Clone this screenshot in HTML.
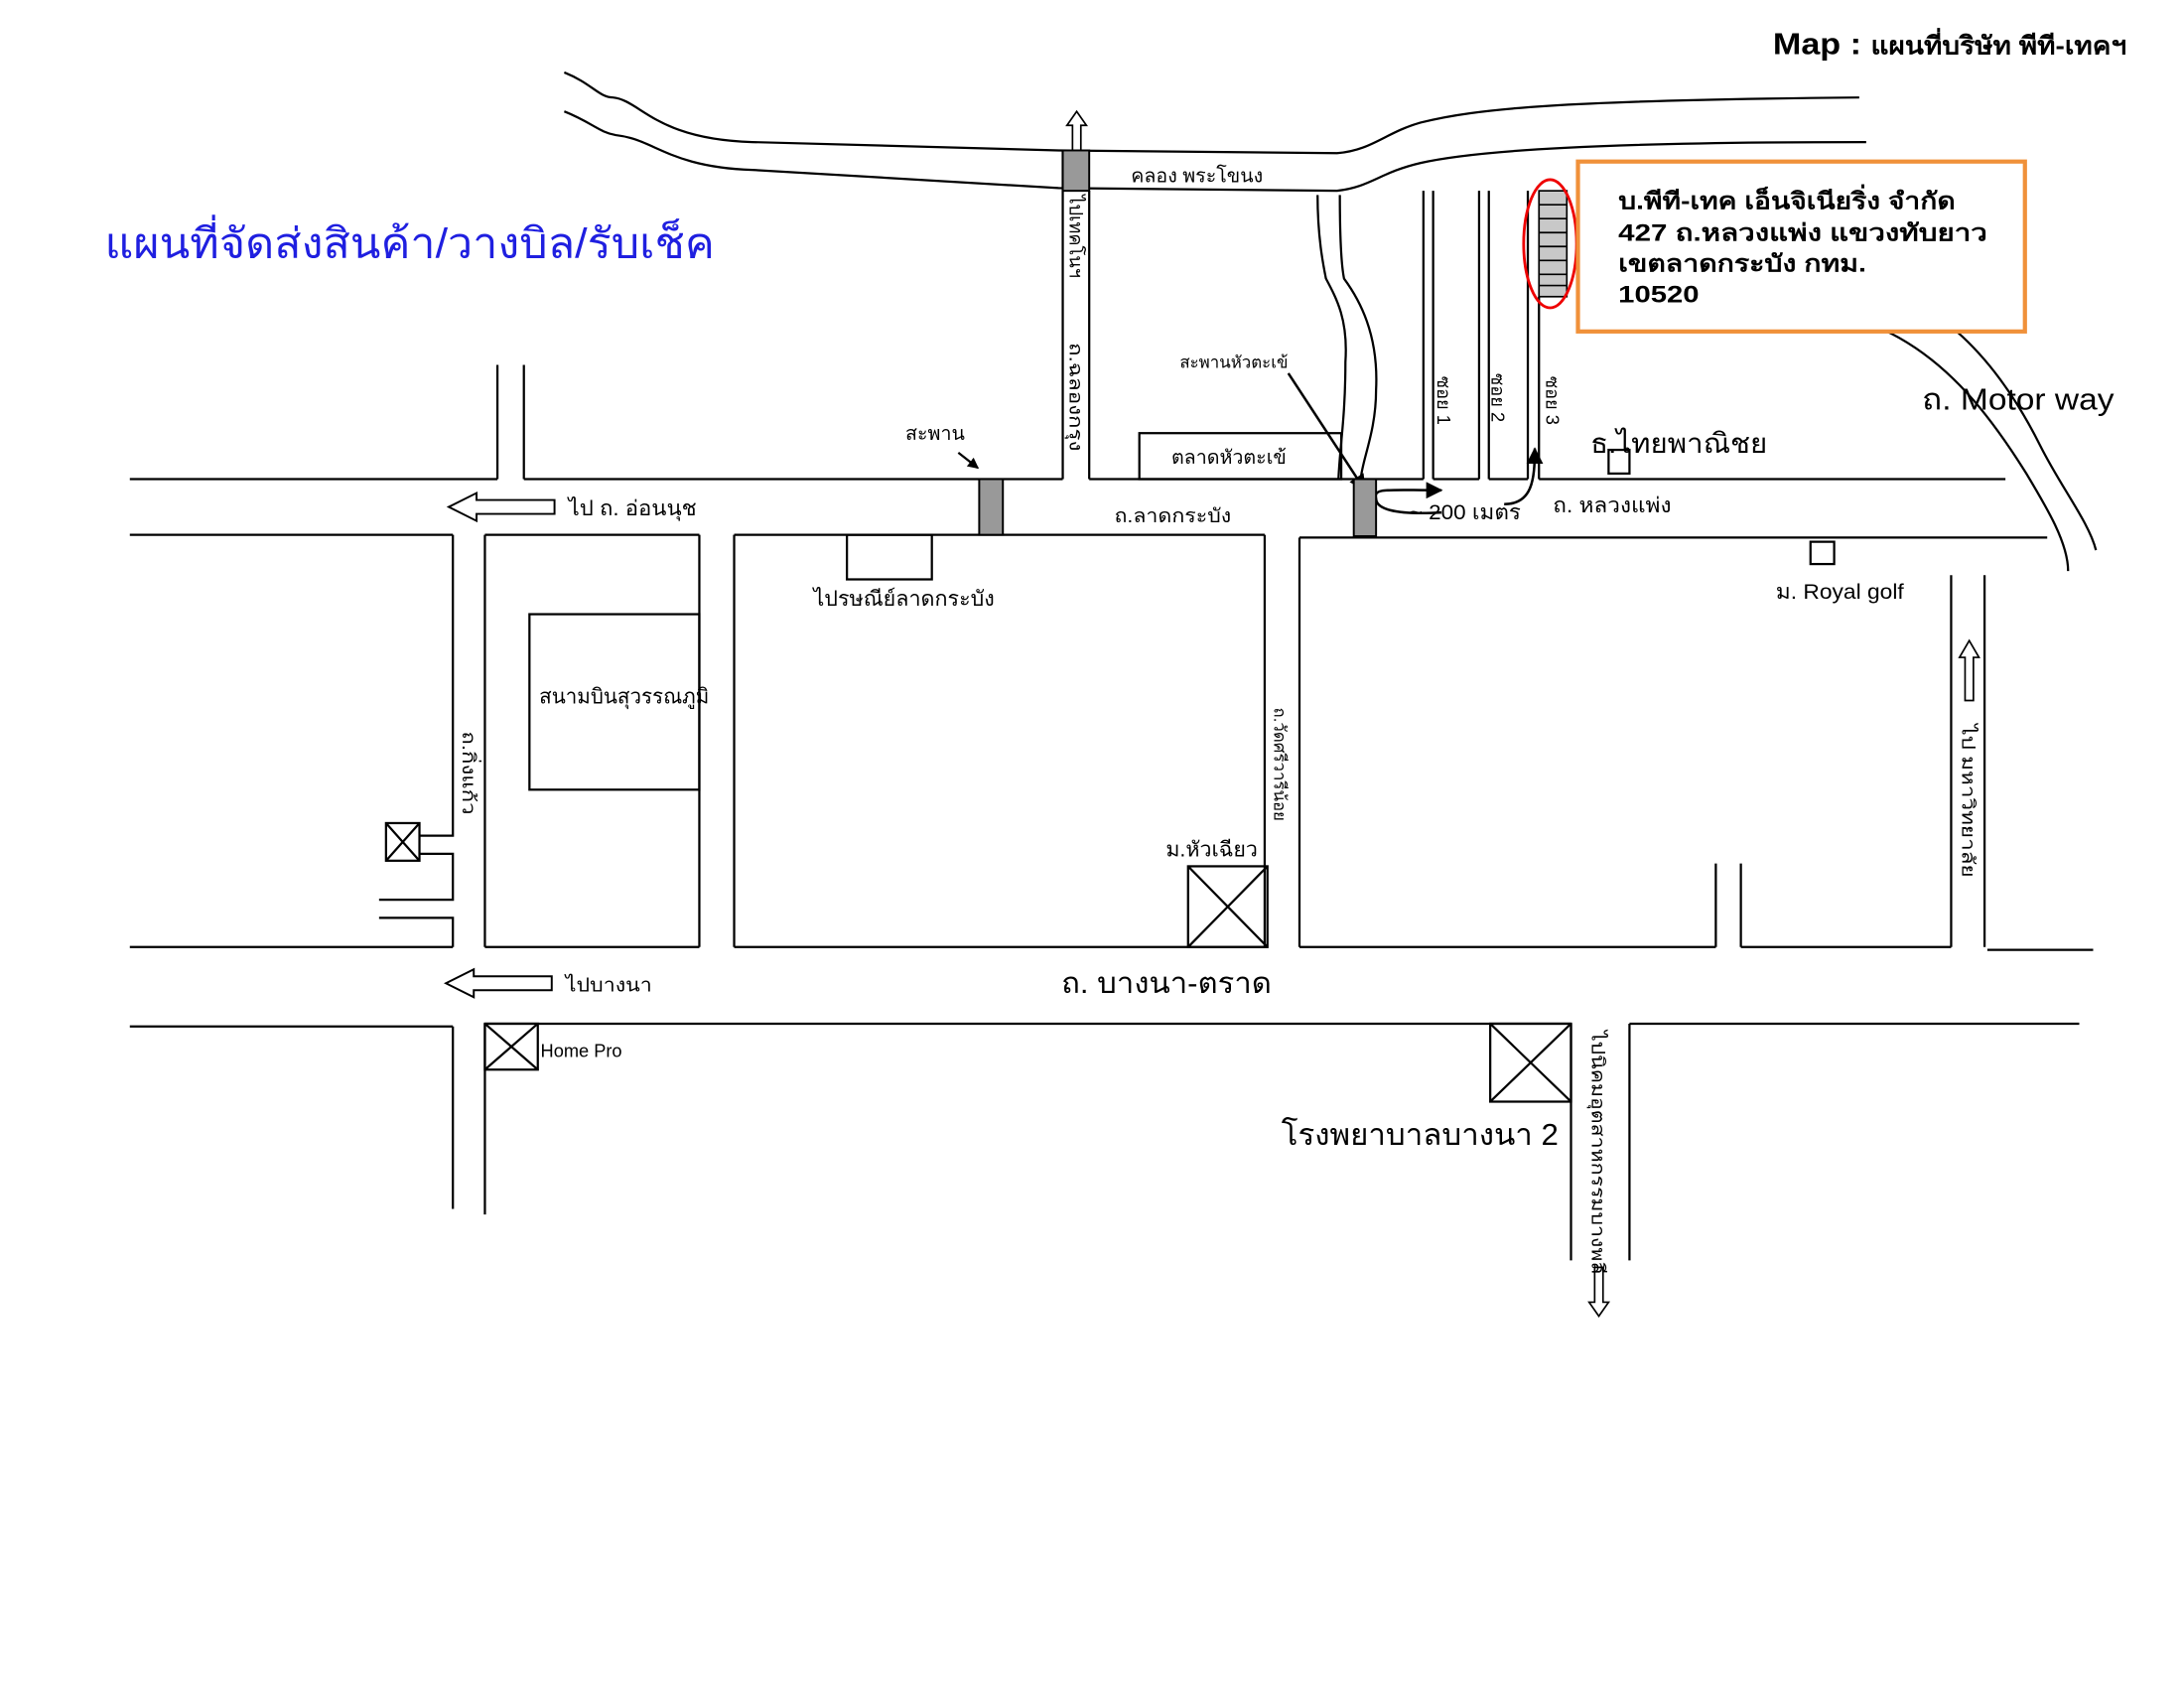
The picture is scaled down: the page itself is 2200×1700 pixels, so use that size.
<!DOCTYPE html>
<html><head><meta charset="utf-8"><style>
html,body{margin:0;padding:0;background:#fff;}
svg{display:block;}
text{font-family:"Liberation Sans","Noto Sans CJK SC",sans-serif;fill:#000;}
</style></head><body>
<svg width="2200" height="1700" viewBox="0 0 1568 1212" xmlns="http://www.w3.org/2000/svg">
<defs><marker id="ah" markerWidth="8" markerHeight="8" refX="7" refY="4" orient="auto" markerUnits="userSpaceOnUse"><path d="M0,0 L8,4 L0,8 z" fill="#000"/></marker>
<marker id="ah2" markerWidth="12" markerHeight="12" refX="11" refY="6" orient="auto" markerUnits="userSpaceOnUse"><path d="M0,0 L12,6 L0,12 z" fill="#000"/></marker></defs>
<g fill="none" stroke="#000" stroke-width="1.6">
<path d="M405,52 C425,60 430,70 440,70 C460,72 470,100 540,102 L760,108 L960,110 C985,108 995,95 1020,88 C1060,78 1120,72 1335,70"/>
<path d="M405,80 C425,88 430,95 442,97 C470,100 480,120 540,122 L760,135 L960,137 C985,134 990,124 1020,117 C1060,108 1150,102 1340,102"/>
<path d="M357,262 V344 M376,262 V344"/>
<path d="M763,108 V344 M782,137 V344"/>
<path d="M946,140 C946,170 950,190 952,200 C960,215 968,230 966,260 C966,300 962,320 961,344"/>
<path d="M962,140 C962,170 963,190 965,200 C976,215 990,240 988,280 C988,310 978,330 977,344"/>
<path d="M1022,137 V344 M1029,137 V344 M1062,137 V344 M1069,137 V344 M1097,137 V344 M1105,213 V344"/>
<path d="M93,344 H357 M376,344 H763 M782,344 H1022 M1029,344 H1062 M1069,344 H1097 M1105,344 H1440"/>
<path d="M93,384 H325 M348,384 H502 M527,384 H908 M933,386 H1470"/>
<path d="M1355,238 C1400,260 1430,300 1455,340 C1470,365 1485,390 1485,410"/>
<path d="M1405,238 C1430,260 1450,290 1465,320 C1480,350 1500,375 1505,395"/>
<path d="M325,384 V600 H301 M301,613 H325 V646 H272 M272,659 H325 V680"/>
<path d="M348,384 V680 M502,384 V680 M527,384 V680 M908,384 V680 M933,386 V680"/>
<path d="M1232,620 V680 M1250,620 V680 M1401,413 V680 M1425,413 V680"/>
<path d="M93,680 H325 M348,680 H502 M527,680 H908 M933,680 H1232 M1250,680 H1401 M1427,682 H1503"/>
<path d="M93,737 H325 M348,735 H1128 M1170,735 H1493"/>
<path d="M325,737 V868 M348,735 V872 M1128,735 V905 M1170,735 V905"/>
<path d="M398,359 H342 V354 L322,364 L342,374 V369 H398 Z" stroke-width="1.4"/>
<path d="M396,701 H340 V696 L320,706 L340,716 V711 H396 Z" stroke-width="1.4"/>
<path d="M770,120 V90 H766 L773,80 L780,90 H776 V120 Z" stroke-width="1.2"/>
<path d="M1411,503 V472 H1407 L1414,460 L1421,472 H1417 V503 Z" stroke-width="1.2"/>
<path d="M1145,910 V935 H1141 L1148,945 L1155,935 H1151 V910 Z" stroke-width="1.2"/>
<rect x="608" y="384" width="61" height="32"/>
<rect x="380" y="441" width="122" height="126"/>
<rect x="818" y="311" width="145" height="33"/>
<rect x="1155" y="323" width="15" height="17"/>
<rect x="1300" y="389" width="17" height="16"/>
<rect x="277" y="591" width="24" height="27"/><path d="M277,591 L301,618 M301,591 L277,618"/>
<rect x="853" y="622" width="57" height="58"/><path d="M853,622 L910,680 M910,622 L853,680"/>
<rect x="348" y="735" width="38" height="33"/><path d="M348,735 L386,768 M386,735 L348,768"/>
<rect x="1070" y="735" width="58" height="56"/><path d="M1070,735 L1128,791 M1128,735 L1070,791"/>
<path d="M688,325 L702,336" marker-end="url(#ah)"/>
<path d="M925,268 L980,352" stroke-width="1.8" marker-end="url(#ah2)"/>
<path d="M1035,368 C1000,370 988,365 988,358 C986,350 995,352 1035,352" stroke-width="1.8" marker-end="url(#ah2)"/>
<path d="M1080,362 C1100,362 1102,345 1102,322" stroke-width="1.8" marker-end="url(#ah2)"/>
</g>
<g fill="#999" stroke="#000" stroke-width="1.4">
<rect x="763" y="108" width="19" height="29"/>
<rect x="703" y="344" width="17" height="40"/>
<rect x="972" y="344" width="16" height="41"/>
</g>
<g fill="#c8c8c8" stroke="#000" stroke-width="1.2">
<rect x="1105" y="137" width="20" height="76"/>
<path d="M1105,147 H1125 M1105,157 H1125 M1105,167 H1125 M1105,177 H1125 M1105,187 H1125 M1105,197 H1125 M1105,205 H1125" fill="none"/>
</g>
<ellipse cx="1113" cy="175" rx="19" ry="46" fill="none" stroke="#e00" stroke-width="2"/>
<rect x="1133" y="116" width="321" height="122" fill="#fff" stroke="#f0913a" stroke-width="3"/>
<g font-weight="bold" font-size="17">
<text x="1162" y="150" textLength="242" lengthAdjust="spacingAndGlyphs">บ.พีที-เทค เอ็นจิเนียริ่ง  จำกัด</text>
<text x="1162" y="173" textLength="265" lengthAdjust="spacingAndGlyphs">427  ถ.หลวงแพ่ง    แขวงทับยาว</text>
<text x="1162" y="195" textLength="178" lengthAdjust="spacingAndGlyphs">เขตลาดกระบัง   กทม.</text>
<text x="1162" y="217" textLength="58" lengthAdjust="spacingAndGlyphs">10520</text>
</g>
<text x="1273" y="39" font-size="22" font-weight="bold" textLength="254" lengthAdjust="spacingAndGlyphs">Map : <tspan font-size="18">แผนที่บริษัท พีที-เทคฯ</tspan></text>
<text x="75" y="185" font-size="30" style="fill:#1f1fe0" textLength="438" lengthAdjust="spacingAndGlyphs">แผนที่จัดส่งสินค้า/วางบิล/รับเช็ค</text>
<g font-size="14">
<text x="812" y="131">คลอง พระโขนง</text>
<text x="650" y="316">สะพาน</text>
<text x="847" y="264" font-size="12">สะพานหัวตะเข้</text>
<text x="841" y="333">ตลาดหัวตะเข้</text>
<text x="408" y="370" font-size="15" textLength="92" lengthAdjust="spacingAndGlyphs">ไป ถ. อ่อนนุช</text>
<text x="800" y="375" textLength="84" lengthAdjust="spacingAndGlyphs">ถ.ลาดกระบัง</text>
<text x="1012" y="373" font-size="15" textLength="80" lengthAdjust="spacingAndGlyphs">~ 200 เมตร</text>
<text x="1115" y="368" font-size="15" textLength="85" lengthAdjust="spacingAndGlyphs">ถ. หลวงแพ่ง</text>
<text x="1142" y="325" font-size="20" textLength="127" lengthAdjust="spacingAndGlyphs">ธ.ไทยพาณิชย</text>
<text x="1380" y="294" font-size="22" textLength="138" lengthAdjust="spacingAndGlyphs">ถ. Motor way</text>
<text x="1275" y="430" font-size="15" textLength="92" lengthAdjust="spacingAndGlyphs">ม. Royal golf</text>
<text x="584" y="435" font-size="15" textLength="130" lengthAdjust="spacingAndGlyphs">ไปรษณีย์ลาดกระบัง</text>
<text x="387" y="505" font-size="15" textLength="122" lengthAdjust="spacingAndGlyphs">สนามบินสุวรรณภูมิ</text>
<text x="837" y="615" font-size="15" textLength="66" lengthAdjust="spacingAndGlyphs">ม.หัวเฉียว</text>
<text x="406" y="712" textLength="62" lengthAdjust="spacingAndGlyphs">ไปบางนา</text>
<text x="762" y="713" font-size="21" textLength="151" lengthAdjust="spacingAndGlyphs">ถ. บางนา-ตราด</text>
<text x="388" y="759" font-size="13">Home Pro</text>
<text x="920" y="822" font-size="22" textLength="199" lengthAdjust="spacingAndGlyphs">โรงพยาบาลบางนา 2</text>
</g>
<g font-size="13">
<text transform="translate(768,140) rotate(90)">ไปเทคโนฯ</text>
<text transform="translate(768,246) rotate(90)" textLength="78" lengthAdjust="spacingAndGlyphs">ถ.ฉลองกรุง</text>
<text transform="translate(1032,270) rotate(90)">ซอย 1</text>
<text transform="translate(1071,268) rotate(90)">ซอย 2</text>
<text transform="translate(1110,270) rotate(90)">ซอย 3</text>
<text transform="translate(332,525) rotate(90)" textLength="60" lengthAdjust="spacingAndGlyphs">ถ.กิ่งแก้ว</text>
<text transform="translate(915,508) rotate(90)" font-size="12">ถ.วัดศรีวารีน้อย</text>
<text transform="translate(1409,520) rotate(90)" textLength="110" lengthAdjust="spacingAndGlyphs">ไป มหาวิทยาลัย</text>
<text transform="translate(1143,740) rotate(90)" textLength="175" lengthAdjust="spacingAndGlyphs">ไปนิคมอุตสาหกรรมบางพลี</text>
</g>
</svg>
</body></html>
